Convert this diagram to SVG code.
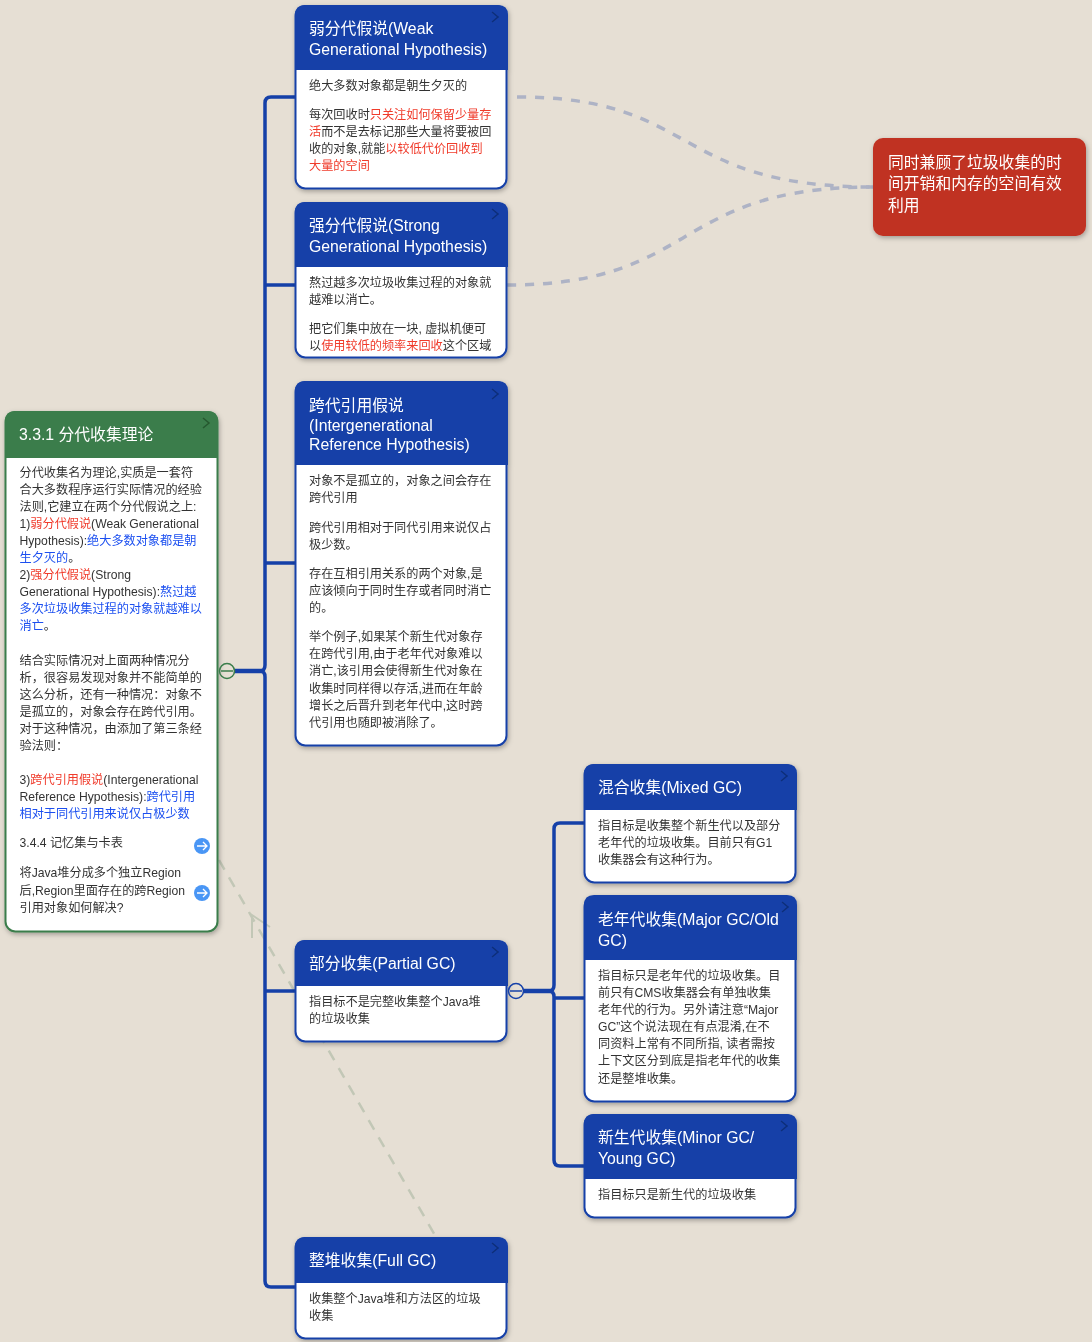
<svg xmlns="http://www.w3.org/2000/svg" width="1092" height="1342" viewBox="0 0 1092 1342">
<style>
text{font-family:"Liberation Sans","Noto Sans CJK SC",sans-serif}
.t{font-size:15.800px;fill:#fff}
.b{font-size:12.160px;fill:#333}
.r{fill:#f03a2a}
.u{fill:#1c50f0}
.box{fill:#fff;stroke:#1540a8;stroke-width:2}
.head{fill:#1540a8}
.gbox{fill:#fff;stroke:#3b7d4b;stroke-width:2}
.ghead{fill:#3b7d4b}
.chev{fill:none;stroke:#0f2f7a;stroke-width:1.500}
.gchev{fill:none;stroke:#26582f;stroke-width:1.500}
.branch{fill:none;stroke:#1540a8;stroke-width:3.500}
.trunk{fill:none;stroke:#1540a8;stroke-width:4.500}
.sum{fill:none;stroke:#aeb3c5;stroke-width:3.500;stroke-dasharray:9 9}
.rel{fill:none;stroke:#c2c7b6;stroke-width:2.500;stroke-dasharray:11 9}
.relh{fill:none;stroke:#c2c7b6;stroke-width:2}
</style>
<defs>
<filter id="sh" x="-10%" y="-10%" width="120%" height="120%"><feDropShadow dx="1" dy="2" stdDeviation="2.500" flood-color="#000" flood-opacity=".3"/></filter>
</defs>
<rect width="1092" height="1342" fill="#e6dfd4"/>
<g id="connectors">
<path class="rel" d="M219 860L436 1237"/>
<path class="relh" d="M252 938V915L270 927"/>
<path class="trunk" d="M234 671H262"/>
<path class="branch" d="M295 97H271Q265 97 265 103V665Q265 671 260 671Q265 671 265 677V1281Q265 1287 271 1287H295"/>
<path class="branch" d="M265 285H295M265 563H295M265 991H295"/>
<path class="trunk" d="M524 991H552"/>
<path class="branch" d="M584 823H560Q554 823 554 829V985Q554 991 549 991Q554 991 554 997V1160Q554 1166 560 1166H584M554 998H584"/>
<path class="sum" d="M517 97C700 97 670 187 873 187"/>
<path class="sum" d="M507 285C700 285 670 187 873 187"/>
</g>
<g id="root" filter="url(#sh)">
<rect class="gbox" x="5.500" y="412" width="212" height="519.500" rx="10"/>
<path class="ghead" d="M5 458V421Q5 411 15 411H208Q218 411 218 421V458Z"/>
<path class="gchev" d="M203 418L209 423L203 428"/>
<text class="t" x="19" y="440">3.3.1 分代收集理论</text>
<text class="b">
<tspan x="19.500" y="477">分代收集名为理论,实质是一套符</tspan>
<tspan x="19.500" y="494">合大多数程序运行实际情况的经验</tspan>
<tspan x="19.500" y="511">法则,它建立在两个分代假说之上:</tspan>
<tspan x="19.500" y="528">1)<tspan class="r">弱分代假说</tspan>(Weak Generational</tspan>
<tspan x="19.500" y="545">Hypothesis):<tspan class="u">绝大多数对象都是朝</tspan></tspan>
<tspan x="19.500" y="562"><tspan class="u">生夕灭的</tspan>。</tspan>
<tspan x="19.500" y="579">2)<tspan class="r">强分代假说</tspan>(Strong</tspan>
<tspan x="19.500" y="596">Generational Hypothesis):<tspan class="u">熬过越</tspan></tspan>
<tspan x="19.500" y="613" class="u">多次垃圾收集过程的对象就越难以</tspan>
<tspan x="19.500" y="630"><tspan class="u">消亡</tspan>。</tspan>
<tspan x="19.500" y="665">结合实际情况对上面两种情况分</tspan>
<tspan x="19.500" y="682">析，很容易发现对象并不能简单的</tspan>
<tspan x="19.500" y="699">这么分析，还有一种情况：对象不</tspan>
<tspan x="19.500" y="716">是孤立的，对象会存在跨代引用。</tspan>
<tspan x="19.500" y="733">对于这种情况，由添加了第三条经</tspan>
<tspan x="19.500" y="750">验法则：</tspan>
<tspan x="19.500" y="784">3)<tspan class="r">跨代引用假说</tspan>(Intergenerational</tspan>
<tspan x="19.500" y="801">Reference Hypothesis):<tspan class="u">跨代引用</tspan></tspan>
<tspan x="19.500" y="818" class="u">相对于同代引用来说仅占极少数</tspan>
<tspan x="19.500" y="847">3.4.4 记忆集与卡表</tspan>
<tspan x="19.500" y="877">将Java堆分成多个独立Region</tspan>
<tspan x="19.500" y="895">后,Region里面存在的跨Region</tspan>
<tspan x="19.500" y="912">引用对象如何解决?</tspan>
</text>
<circle cx="202" cy="846" r="8" fill="#4a96f5"/>
<path d="M197 846H207M203 842L207 846L203 850" fill="none" stroke="#fff" stroke-width="1.300"/>
<circle cx="202" cy="893" r="8" fill="#4a96f5"/>
<path d="M197 893H207M203 889L207 893L203 897" fill="none" stroke="#fff" stroke-width="1.300"/>
</g>
<g id="root-toggle"><circle cx="227" cy="671" r="7.500" fill="none" stroke="#3b7d4b" stroke-width="1.500"/><path d="M221 671H233" stroke="#3b7d4b" stroke-width="1.500"/></g>
<g id="weak" filter="url(#sh)">
<rect class="box" x="295.500" y="6" width="211" height="182.500" rx="10"/>
<path class="head" d="M295 70V15Q295 5 305 5H498Q508 5 508 15V70Z"/>
<path class="chev" d="M492 12L498 17L492 22"/>
<text class="t"><tspan x="309" y="34">弱分代假说(Weak</tspan><tspan x="309" y="55">Generational Hypothesis)</tspan></text>
<text class="b">
<tspan x="309" y="90">绝大多数对象都是朝生夕灭的</tspan>
<tspan x="309" y="119">每次回收时<tspan class="r">只关注如何保留少量存</tspan></tspan>
<tspan x="309" y="136"><tspan class="r">活</tspan>而不是去标记那些大量将要被回</tspan>
<tspan x="309" y="153">收的对象,就能<tspan class="r">以较低代价回收到</tspan></tspan>
<tspan x="309" y="170" class="r">大量的空间</tspan>
</text>
</g>
<g id="strong" filter="url(#sh)">
<rect class="box" x="295.500" y="203" width="211" height="154.500" rx="10"/>
<path class="head" d="M295 267V212Q295 202 305 202H498Q508 202 508 212V267Z"/>
<path class="chev" d="M492 209L498 214L492 219"/>
<text class="t"><tspan x="309" y="231">强分代假说(Strong</tspan><tspan x="309" y="252">Generational Hypothesis)</tspan></text>
<text class="b">
<tspan x="309" y="287">熬过越多次垃圾收集过程的对象就</tspan>
<tspan x="309" y="304">越难以消亡。</tspan>
<tspan x="309" y="333">把它们集中放在一块, 虚拟机便可</tspan>
<tspan x="309" y="350">以<tspan class="r">使用较低的频率来回收</tspan>这个区域</tspan>
</text>
</g>
<g id="cross" filter="url(#sh)">
<rect class="box" x="295.500" y="382" width="211" height="363.500" rx="10"/>
<path class="head" d="M295 465V391Q295 381 305 381H498Q508 381 508 391V465Z"/>
<path class="chev" d="M492 389L498 394L492 399"/>
<text class="t"><tspan x="309" y="411">跨代引用假说</tspan><tspan x="309" y="431">(Intergenerational</tspan><tspan x="309" y="450">Reference Hypothesis)</tspan></text>
<text class="b">
<tspan x="309" y="485">对象不是孤立的，对象之间会存在</tspan>
<tspan x="309" y="502">跨代引用</tspan>
<tspan x="309" y="532">跨代引用相对于同代引用来说仅占</tspan>
<tspan x="309" y="549">极少数。</tspan>
<tspan x="309" y="578">存在互相引用关系的两个对象,是</tspan>
<tspan x="309" y="595">应该倾向于同时生存或者同时消亡</tspan>
<tspan x="309" y="612">的。</tspan>
<tspan x="309" y="641">举个例子,如果某个新生代对象存</tspan>
<tspan x="309" y="658">在跨代引用,由于老年代对象难以</tspan>
<tspan x="309" y="675">消亡,该引用会使得新生代对象在</tspan>
<tspan x="309" y="693">收集时同样得以存活,进而在年龄</tspan>
<tspan x="309" y="710">增长之后晋升到老年代中,这时跨</tspan>
<tspan x="309" y="727">代引用也随即被消除了。</tspan>
</text>
</g>
<g id="partial" filter="url(#sh)">
<rect class="box" x="295.500" y="941" width="211" height="100.500" rx="10"/>
<path class="head" d="M295 986V950Q295 940 305 940H498Q508 940 508 950V986Z"/>
<path class="chev" d="M492 947L498 952L492 957"/>
<text class="t" x="309" y="969">部分收集(Partial GC)</text>
<text class="b"><tspan x="309" y="1006">指目标不是完整收集整个Java堆</tspan><tspan x="309" y="1023">的垃圾收集</tspan></text>
</g>
<g id="partial-toggle"><circle cx="516" cy="991" r="7.500" fill="none" stroke="#1540a8" stroke-width="1.500"/><path d="M510 991H522" stroke="#1540a8" stroke-width="1.500"/></g>
<g id="full" filter="url(#sh)">
<rect class="box" x="295.500" y="1238" width="211" height="100.500" rx="10"/>
<path class="head" d="M295 1283V1247Q295 1237 305 1237H498Q508 1237 508 1247V1283Z"/>
<path class="chev" d="M492 1243L498 1248L492 1253"/>
<text class="t" x="309" y="1266">整堆收集(Full GC)</text>
<text class="b"><tspan x="309" y="1303">收集整个Java堆和方法区的垃圾</tspan><tspan x="309" y="1320">收集</tspan></text>
</g>
<g id="mixed" filter="url(#sh)">
<rect class="box" x="584.500" y="765" width="211" height="117.500" rx="10"/>
<path class="head" d="M584 810V774Q584 764 594 764H787Q797 764 797 774V810Z"/>
<path class="chev" d="M781 771L787 776L781 781"/>
<text class="t" x="598" y="793">混合收集(Mixed GC)</text>
<text class="b"><tspan x="598" y="830">指目标是收集整个新生代以及部分</tspan><tspan x="598" y="847">老年代的垃圾收集。目前只有G1</tspan><tspan x="598" y="864">收集器会有这种行为。</tspan></text>
</g>
<g id="major" filter="url(#sh)">
<rect class="box" x="584.500" y="897" width="211" height="204.500" rx="10"/>
<path class="head" d="M584 960V905Q584 895 594 895H787Q797 895 797 905V960Z"/>
<path class="chev" d="M782 902L788 907L782 912"/>
<text class="t"><tspan x="598" y="925">老年代收集(Major GC/Old</tspan><tspan x="598" y="946">GC)</tspan></text>
<text class="b">
<tspan x="598" y="980">指目标只是老年代的垃圾收集。目</tspan>
<tspan x="598" y="997">前只有CMS收集器会有单独收集</tspan>
<tspan x="598" y="1014">老年代的行为。另外请注意“Major</tspan>
<tspan x="598" y="1031">GC”这个说法现在有点混淆,在不</tspan>
<tspan x="598" y="1048">同资料上常有不同所指, 读者需按</tspan>
<tspan x="598" y="1065">上下文区分到底是指老年代的收集</tspan>
<tspan x="598" y="1083">还是整堆收集。</tspan>
</text>
</g>
<g id="minor" filter="url(#sh)">
<rect class="box" x="584.500" y="1115" width="211" height="102.500" rx="10"/>
<path class="head" d="M584 1179V1124Q584 1114 594 1114H787Q797 1114 797 1124V1179Z"/>
<path class="chev" d="M781 1121L787 1126L781 1131"/>
<text class="t"><tspan x="598" y="1143">新生代收集(Minor GC/</tspan><tspan x="598" y="1164">Young GC)</tspan></text>
<text class="b" x="598" y="1199">指目标只是新生代的垃圾收集</text>
</g>
<g id="summary" filter="url(#sh)">
<rect x="873" y="138" width="213" height="98" rx="10" fill="#c03222"/>
<text class="t"><tspan x="888" y="168">同时兼顾了垃圾收集的时</tspan><tspan x="888" y="189">间开销和内存的空间有效</tspan><tspan x="888" y="211">利用</tspan></text>
</g>
</svg>
